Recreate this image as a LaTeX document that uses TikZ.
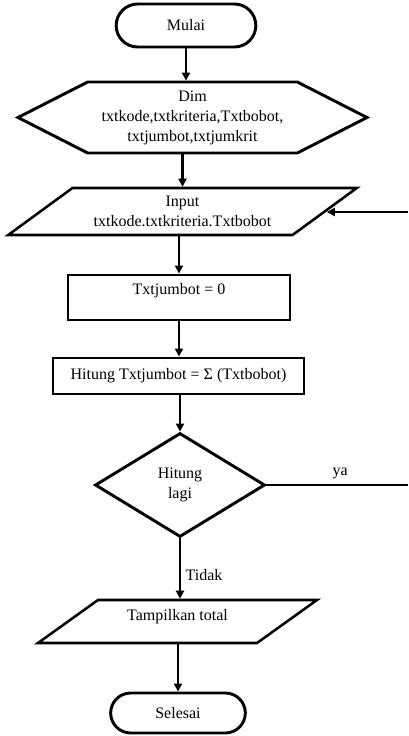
\documentclass[tikz,border=0pt]{standalone}
\usepackage{fontspec}
\setmainfont{Liberation Serif}
\usepackage{tikz}
\usetikzlibrary{shapes.misc,shapes.geometric,shapes.symbols,arrows.meta,positioning}

\begin{document}
\begin{tikzpicture}[x=0.75pt, y=-0.75pt,
    font=\fontsize{12}{15}\selectfont,
    terminal/.style={draw, line width=2.2pt, rounded rectangle, inner sep=2pt},
    deklarasi/.style={draw, line width=2.2pt, signal, signal to=east and west, signal pointer angle=54, align=center, inner sep=2pt},
    io/.style={draw, line width=1.9pt, trapezium, trapezium stretches=true, align=center, inner sep=2pt},
    proses/.style={draw, line width=2.2pt, rectangle, inner sep=2pt},
    keputusan/.style={draw, line width=2.2pt, diamond, align=center, inner sep=0pt},
    arus/.style={line width=1.8pt, -{Triangle[length=6pt,width=6pt]}},
    garis/.style={line width=1.8pt}]
    \useasboundingbox (0,0) rectangle (408,736);

    % Mulai
    \node[terminal, minimum width=108.75pt, minimum height=32.25pt] (mulai) at (186,25.5) {Mulai};

    % Deklarasi variabel
    \node[deklarasi, minimum width=261.75pt, minimum height=53.25pt] (dim) at (192.5,117.5)
        {Dim\\txtkode,txtkriteria,Txtbobot,\\txtjumbot,txtjumkrit};

    % Input data
    \node[io, trapezium left angle=34, trapezium right angle=146,
          minimum width=261.75pt, minimum height=35.25pt] (input) at (182.5,211.5)
        {Input\\txtkode.txtkriteria.Txtbobot};

    % Proses
    \node[proses, minimum width=166.5pt, minimum height=33.75pt,
          text height=9pt, text depth=13pt] (jumnol) at (179,297.5) {Txtjumbot = 0};
    \node[proses, minimum width=188.25pt, minimum height=27pt] (hitung) at (178.5,376)
        {Hitung Txtjumbot = Σ (Txtbobot)};

    % Keputusan
    \node[keputusan, minimum width=127.5pt, minimum height=78pt] (lagi) at (180,485) {Hitung\\lagi};

    % Output
    \node[io, trapezium left angle=37.5, trapezium right angle=142.5,
          minimum width=209.25pt, minimum height=32.25pt,
          text height=9pt, text depth=10pt] (tampil) at (177.5,621.5) {Tampilkan total};

    % Selesai
    \node[terminal, minimum width=105pt, minimum height=30pt] (selesai) at (178,713) {Selesai};

    % Alur
    \draw[arus] (mulai.south) -- (mulai.south |- dim.north);
    \draw[arus] (input.north |- dim.south) -- (input.north);
    \draw[arus] (jumnol.north |- input.south) -- (jumnol.north);
    \draw[arus] (jumnol.south) -- (jumnol.south |- hitung.north);
    \draw[arus] (lagi.north |- hitung.south) -- (lagi.north);
    \draw[arus] (lagi.south) -- (lagi.south |- tampil.north) node[pos=0.6, right] {Tidak};
    \draw[arus] (selesai.north |- tampil.south) -- (selesai.north);

    % Perulangan
    \coordinate (balik) at (408,212);
    \draw[arus] (balik) -- (balik -| input.east);
    \draw[garis] (lagi.east) -- (lagi.east -| balik) node[pos=0.52, above] {ya};
\end{tikzpicture}
\end{document}
